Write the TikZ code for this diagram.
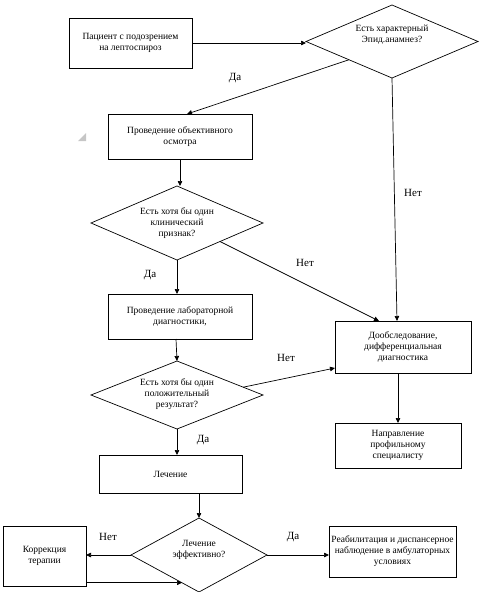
\documentclass[tikz,border=0pt]{standalone}
\usepackage{fontspec}
\setmainfont{Liberation Serif}
\usetikzlibrary{shapes.geometric,arrows.meta,calc}
\begin{document}
\begin{tikzpicture}[x=1pt,y=-1pt,
 box/.style={draw,line width=0.7pt,inner sep=0pt,outer sep=0pt,align=center,font=\fontsize{9.5}{11}\selectfont},
 dia/.style={draw,diamond,line width=0.7pt,inner sep=0pt,outer sep=0pt},
 dtext/.style={align=center,font=\fontsize{9.5}{11}\selectfont,inner sep=0pt},
 lab/.style={font=\fontsize{11}{13}\selectfont,inner sep=0pt},
 arr/.style={line width=0.7pt,-{Triangle[length=5pt,width=4.5pt]}}]
\useasboundingbox (0,0) rectangle (484,592);
% boxes
\node[box,minimum width=123pt,minimum height=50pt] (b1) at (130.5,43) {Пациент с подозрением\\на лептоспироз};
\node[box,minimum width=144pt,minimum height=45pt] (b2) at (180,136.5) {Проведение объективного\\осмотра};
\node[box,minimum width=144pt,minimum height=45pt] (b3) at (180,316.5) {Проведение лабораторной\\диагностики,};
\node[box,minimum width=136pt,minimum height=52pt] (b4) at (403,347) {Дообследование,\\дифференциальная\\диагностика};
\node[box,minimum width=126pt,minimum height=45pt] (b5) at (398,445.5) {Направление\\профильному\\специалисту};
\node[box,minimum width=143pt,minimum height=38pt] (b6) at (170.5,474) {Лечение};
\node[box,minimum width=83pt,minimum height=60pt] (b7) at (44.5,556) {Коррекция\\терапии};
\node[box,minimum width=127pt,minimum height=51pt] (b8) at (392.5,551.5) {Реабилитация и диспансерное\\наблюдение в амбулаторных\\условиях};
% diamonds
\node[dia,minimum width=172pt,minimum height=73pt] (d1) at (392,41.5) {};
\node[dtext] (d1t) at (392,35) {Есть характерный\\Эпид.анамнез?};
\node[dia,minimum width=172pt,minimum height=74pt] (d2) at (177,223) {};
\node[dtext] (d2t) at (177,223) {Есть хотя бы один\\клинический\\признак?};
\node[dia,minimum width=172pt,minimum height=68pt] (d3) at (177,395) {};
\node[dtext] (d3t) at (177,394) {Есть хотя бы один\\положительный\\результат?};
\node[dia,minimum width=136pt,minimum height=74pt] (d4) at (199,555) {};
\node[dtext] (d4t) at (199,550) {Лечение\\эффективно?};
% small grey mark
\fill[gray!45] (86,133) -- (86,141) -- (78,141) -- cycle;
% connectors
\draw[arr] (b1.east) -- (b1.east -| d1.west);
\draw[arr] ($(d1.west)!0.5!(d1.south)$) -- ([xshift=7pt]b2.north);
\draw[arr] (d1.south) -- ([xshift=-6pt]b4.north);
\draw[arr] (b2.south) -- (b2.south |- d2.north);
\draw[arr] (d2.south) -- (d2.south |- b3.north);
\draw[arr] ($(d2.east)!0.5!(d2.south)$) -- ([xshift=-24pt]b4.north);
\draw[arr] ([xshift=-4pt]b3.south) -- (d3.north);
\draw[arr] ($(d3.east)!0.23!(d3.north)$) -- ([yshift=-21pt]b4.west);
\draw[arr] (b5.north |- b4.south) -- (b5.north);
\draw[arr] (d3.south) -- (d3.south |- b6.north);
\draw[arr] (d4.north |- b6.south) -- (d4.north);
\draw[arr] (d4.west) -- (d4.west -| b7.east);
\coordinate (d4in) at ($(d4.west)!0.5!(d4.south)!0.5!(d4.south)$);
\draw[arr] (d4in -| b7.east) -- (d4in);
\draw[arr] (d4.east) -- (d4.east -| b8.west);
% labels
\node[lab] (l1) at (235,78) {Да};
\node[lab] (l2) at (413,193) {Нет};
\node[lab] (l3) at (305,263) {Нет};
\node[lab] (l4) at (150,275) {Да};
\node[lab] (l5) at (286,358) {Нет};
\node[lab] (l6) at (203,440) {Да};
\node[lab] (l7) at (108,537) {Нет};
\node[lab] (l8) at (293,537) {Да};
\end{tikzpicture}
\end{document}
